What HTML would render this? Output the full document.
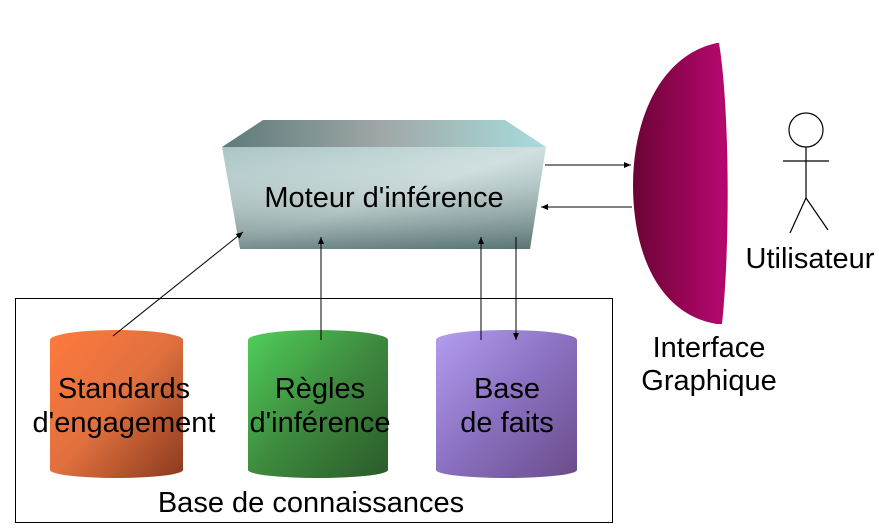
<!DOCTYPE html>
<html><head><style>body{margin:0;background:#fff}svg{display:block}text{font-family:"Liberation Sans",Arial,sans-serif;fill:#000}</style></head><body>
<svg width="879" height="530" viewBox="0 0 879 530">
<defs>
<linearGradient id="front" x1="0" y1="0" x2="1" y2="1"><stop offset="0" stop-color="#a9c4c4"/><stop offset="0.5" stop-color="#cfdfdf"/><stop offset="1" stop-color="#7f9a9a"/></linearGradient>
<linearGradient id="fv" x1="0" y1="0" x2="0" y2="1"><stop offset="0" stop-color="#fff" stop-opacity="0"/><stop offset="1" stop-color="#3c5858" stop-opacity="0.6"/></linearGradient>
<linearGradient id="top" x1="0" y1="0" x2="1" y2="0"><stop offset="0" stop-color="#5e7a7a"/><stop offset="0.5" stop-color="#a0a8a8"/><stop offset="1" stop-color="#a8dcdc"/></linearGradient>
<linearGradient id="c1" x1="0" y1="0" x2="1" y2="1"><stop offset="0" stop-color="#ff7a3e"/><stop offset="0.5" stop-color="#e0703e"/><stop offset="1" stop-color="#8a3a1e"/></linearGradient>
<linearGradient id="c2" x1="0" y1="0" x2="1" y2="1"><stop offset="0" stop-color="#4fcf5a"/><stop offset="0.5" stop-color="#3e8a3e"/><stop offset="1" stop-color="#2a5a2a"/></linearGradient>
<linearGradient id="c3" x1="0" y1="0" x2="1" y2="1"><stop offset="0" stop-color="#b49ef0"/><stop offset="0.5" stop-color="#8a70c0"/><stop offset="1" stop-color="#6a4c8a"/></linearGradient>
<linearGradient id="dome" x1="0" y1="0" x2="1" y2="0"><stop offset="0" stop-color="#6a0434"/><stop offset="0.6" stop-color="#9a0558"/><stop offset="1" stop-color="#b80870"/></linearGradient>
<marker id="ah" markerWidth="8" markerHeight="8" refX="7" refY="4" orient="auto" markerUnits="userSpaceOnUse"><path d="M0,1 L7,4 L0,7z" fill="#000"/></marker>
</defs>
<rect x="15.5" y="298.5" width="597" height="224" fill="none" stroke="#000"/>
<polygon points="263,120 505,120 546,147 222,147" fill="url(#top)"/>
<polygon points="222,147 546,147 530,249 240,249" fill="url(#front)"/>
<polygon points="222,147 546,147 530,249 240,249" fill="url(#fv)"/>
<text x="384" y="207" font-size="29" text-anchor="middle">Moteur d'inférence</text>
<path d="M50,340 A66.5,10 0 0 1 183,340 L183,470 A66.5,8 0 0 1 50,470z" fill="url(#c1)"/>
<path d="M248,340 A70,10 0 0 1 388,340 L388,470 A70,8 0 0 1 248,470z" fill="url(#c2)"/>
<path d="M436,340 A70.5,10 0 0 1 577,340 L577,470 A70.5,8 0 0 1 436,470z" fill="url(#c3)"/>
<text font-size="29" text-anchor="middle"><tspan x="124" y="398">Standards</tspan><tspan x="124" y="432">d'engagement</tspan></text>
<text font-size="29" text-anchor="middle"><tspan x="320" y="398">Règles</tspan><tspan x="320" y="432">d'inférence</tspan></text>
<text font-size="29" text-anchor="middle"><tspan x="507" y="398">Base</tspan><tspan x="507" y="432">de faits</tspan></text>
<text x="311" y="512" font-size="29" text-anchor="middle">Base de connaissances</text>
<g stroke="#000" stroke-width="1">
<line x1="113" y1="336" x2="243" y2="232" marker-end="url(#ah)"/>
<line x1="321" y1="340" x2="321" y2="237" marker-end="url(#ah)"/>
<line x1="481" y1="340" x2="481" y2="237" marker-end="url(#ah)"/>
<line x1="516" y1="237" x2="516" y2="340" marker-end="url(#ah)"/>
<line x1="545" y1="165" x2="631" y2="165" marker-end="url(#ah)"/>
<line x1="632" y1="207" x2="541" y2="207" marker-end="url(#ah)"/>
</g>
<path d="M717,43 C660,55 633,120 633,185 C633,255 660,315 717,324 C730,250 730,110 717,43z" fill="url(#dome)"/>
<path d="M716,43 C728,110 728,250 716,324 L722,324 C730,250 730,110 719,43z" fill="#b00868"/>
<text x="709" y="357" font-size="29" text-anchor="middle">Interface</text>
<text x="709" y="390" font-size="29" text-anchor="middle">Graphique</text>
<g stroke="#000" stroke-width="1.2" fill="none">
<circle cx="806" cy="130" r="17"/>
<line x1="806" y1="147" x2="806" y2="198"/>
<line x1="783" y1="161" x2="829" y2="161"/>
<line x1="806" y1="198" x2="790" y2="233"/>
<line x1="806" y1="198" x2="828" y2="230"/>
</g>
<text x="810" y="268" font-size="29" text-anchor="middle">Utilisateur</text>
</svg>
</body></html>
